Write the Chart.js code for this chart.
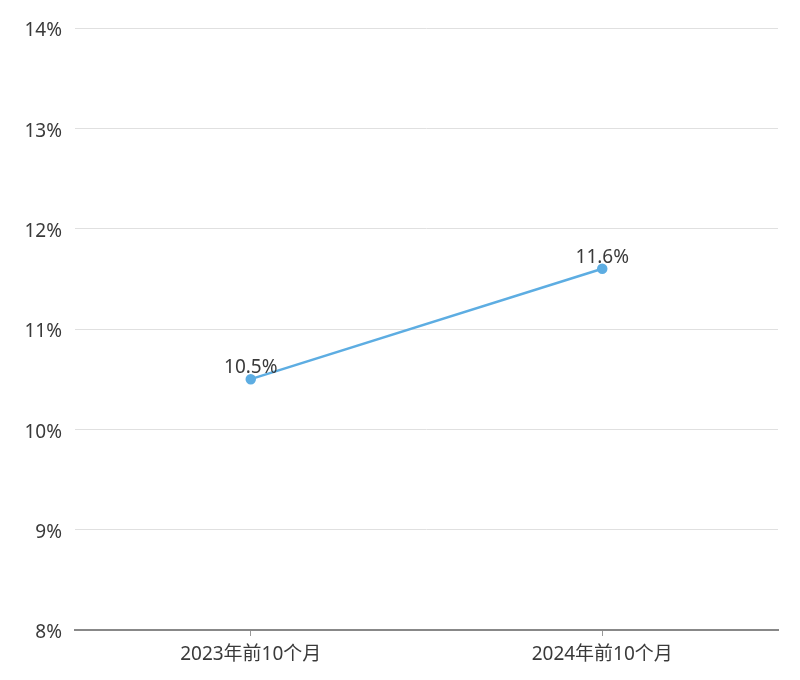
<!DOCTYPE html>
<html><head><meta charset="utf-8">
<script src="https://cdn.jsdelivr.net/npm/chart.js@4/dist/chart.umd.min.js"></script>
<style>html,body{margin:0;padding:0;background:#fff}#wrap{width:800px;height:680px}</style>
</head><body><div id="wrap"><canvas id="c" width="800" height="680"></canvas></div>
<script>
const categories = ['2023年前10个月', '2024年前10个月'];
const values = [10.5, 11.6];
const yTicks = [8, 9, 10, 11, 12, 13, 14];
const FONT = '"Noto Sans", "Noto Sans CJK SC", sans-serif';

const labelPlugin = {
  id: 'pointLabels',
  afterDatasetsDraw(chart) {
    const ctx = chart.ctx;
    const meta = chart.getDatasetMeta(0);
    ctx.save();
    ctx.font = '19px ' + FONT;
    ctx.fillStyle = '#3a3a3a';
    ctx.textAlign = 'center';
    ctx.textBaseline = 'bottom';
    meta.data.forEach((pt, i) => {
      ctx.fillText(values[i].toFixed(1) + '%', pt.x, pt.y - 2);
    });
    ctx.restore();
  }
};

new Chart(document.getElementById('c'), {
  type: 'line',
  data: {
    labels: categories,
    datasets: [{
      data: values,
      borderColor: '#5dade2',
      backgroundColor: '#5dade2',
      borderWidth: 2.5,
      pointRadius: 4,
      pointHoverRadius: 4,
      tension: 0,
      fill: false
    }]
  },
  options: {
    responsive: false,
    animation: false,
    devicePixelRatio: 1,
    layout: { padding: { top: 28, right: 22, left: 0, bottom: 0 } },
    plugins: { legend: { display: false }, tooltip: { enabled: false } },
    scales: {
      x: {
        offset: true,
        afterFit(s) { s.height = 50; },
        grid: { offset: false, drawOnChartArea: false, drawTicks: true, tickLength: 6, color: '#999' },
        border: { display: true, color: '#888', width: 2 },
        ticks: { color: '#3a3a3a', font: { size: 19, family: FONT }, padding: 7 }
      },
      y: {
        min: 8, max: 14,
        afterFit(s) { s.width = 75; },
        afterBuildTicks(s) { s.ticks = yTicks.map(v => ({ value: v })); },
        grid: { color: '#e0e0e0', drawTicks: false, lineWidth: 1 },
        border: { display: false },
        ticks: { color: '#3a3a3a', font: { size: 19, family: FONT }, padding: 13, labelOffset: 3, callback: v => v + '%' }
      }
    }
  },
  plugins: [labelPlugin]
});
</script></body></html>
